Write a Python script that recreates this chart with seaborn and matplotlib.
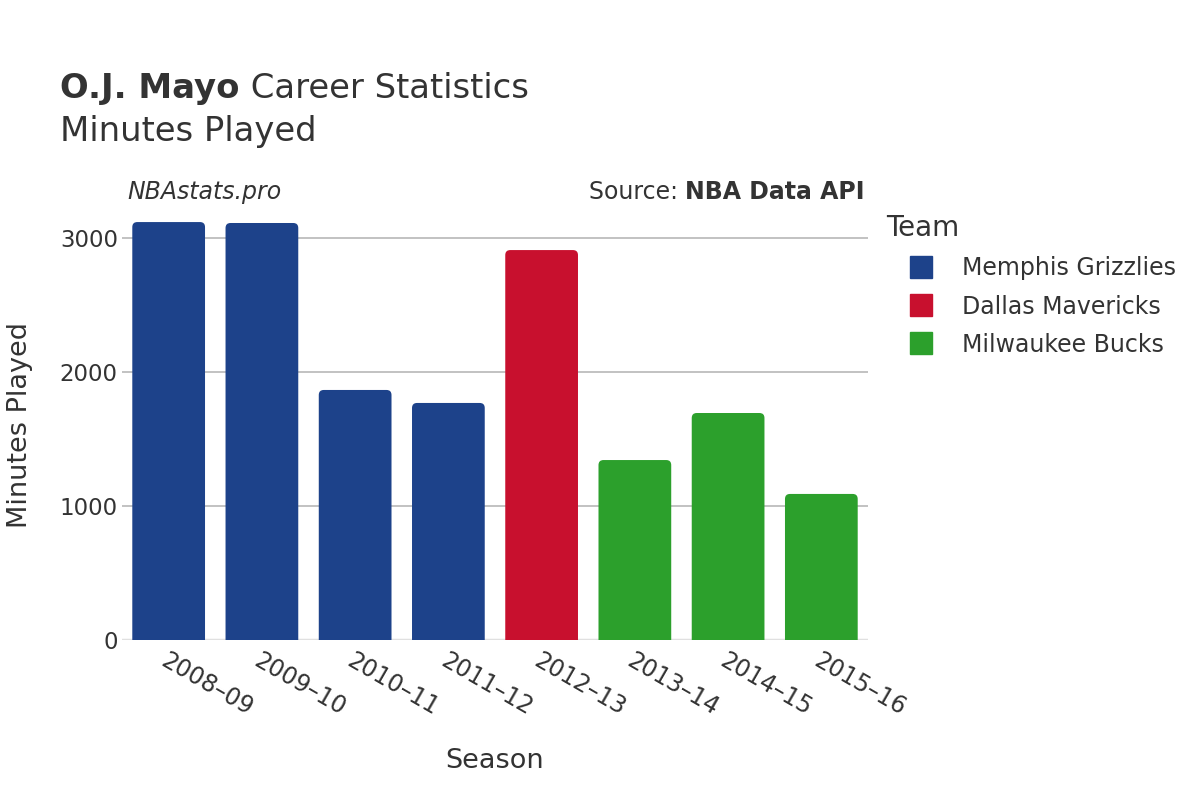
import numpy as np
import pandas as pd
import matplotlib
matplotlib.use("Agg")
import matplotlib.pyplot as plt
import seaborn as sns
from matplotlib.patches import FancyBboxPatch
from matplotlib.lines import Line2D

seasons = ["2008–09", "2009–10", "2010–11", "2011–12", "2012–13", "2013–14", "2014–15", "2015–16"]
minutes = [3119, 3112, 1866, 1769, 2910, 1343, 1694, 1090]
teams = ["Memphis Grizzlies", "Memphis Grizzlies", "Memphis Grizzlies", "Memphis Grizzlies",
         "Dallas Mavericks", "Milwaukee Bucks", "Milwaukee Bucks", "Milwaukee Bucks"]
team_order = ["Memphis Grizzlies", "Dallas Mavericks", "Milwaukee Bucks"]
team_colors = ["#1D428A", "#C8102E", "#2CA02C"]

df = pd.DataFrame({"Season": seasons, "Minutes": minutes, "Team": teams})

sns.set_theme(style="white")
plt.rcParams["font.family"] = ["DejaVu Sans"]
text_col = "#333333"

fig = plt.figure(figsize=(12, 8), dpi=100)
ax = fig.add_axes([0.1017, 0.2, 0.6216, 0.5375])

sns.barplot(data=df, x="Season", y="Minutes", hue="Team", hue_order=team_order,
            palette=team_colors, saturation=1, dodge=False, width=0.78, ax=ax, legend=False)

# swap plain bars for rounded ones
px_x = 746 / len(seasons)
px_y = 0.134
rad = 5 / px_x
aspect = (1 / px_y) / (1 / px_x)
for p in list(ax.patches):
    h = p.get_height()
    if np.isnan(h) or h == 0:
        p.remove()
        continue
    x0, w = p.get_x(), p.get_width()
    fb = FancyBboxPatch((x0 + rad, -200 + rad * aspect), w - 2 * rad, h + 200 - 2 * rad * aspect,
                        boxstyle=f"round,pad={rad},rounding_size={rad}",
                        mutation_aspect=aspect, facecolor=p.get_facecolor(),
                        edgecolor="none", clip_on=True, zorder=3)
    p.remove()
    ax.add_patch(fb)

ax.set_xlim(-0.5, len(seasons) - 0.5)
ax.set_ylim(0, 3209)
ax.set_yticks([0, 1000, 2000, 3000])
ax.yaxis.grid(True, color="#bdbdbd", linewidth=1.3, zorder=0)
ax.set_axisbelow(True)
ax.axhline(0, color="#e0e0e0", linewidth=2.5, zorder=2)
for s in ax.spines.values():
    s.set_visible(False)

ax.tick_params(axis="y", labelsize=16.5, colors=text_col, length=0, pad=3)
ax.tick_params(axis="x", labelsize=17, colors=text_col, length=0, pad=6)
plt.setp(ax.get_xticklabels(), rotation=-30, ha="left", va="top", rotation_mode="anchor")

ax.set_xlabel("Season", fontsize=19.5, color=text_col, labelpad=20)
ax.set_ylabel("Minutes Played", fontsize=19.5, color=text_col, labelpad=19)

fig.canvas.draw()
r = fig.canvas.get_renderer()
inv = fig.transFigure.inverted()

t1 = fig.text(0.05, 0.889, "O.J. Mayo", fontsize=24.4, fontweight="bold", color=text_col, va="center")
bb = t1.get_window_extent(r)
fig.text(inv.transform((bb.x1, 0))[0], 0.889, " Career Statistics", fontsize=24.4, color=text_col, va="center")
fig.text(0.05, 0.835, "Minutes Played", fontsize=24.4, color=text_col, va="center")

fig.text(0.106, 0.76, "NBAstats.pro", fontsize=17, style="italic", color=text_col, va="center")
t2 = fig.text(0.7208, 0.76, "NBA Data API", fontsize=17, fontweight="bold", color=text_col, va="center", ha="right")
bb = t2.get_window_extent(r)
fig.text(inv.transform((bb.x0, 0))[0], 0.76, "Source: ", fontsize=17, color=text_col, va="center", ha="right")

handles = [Line2D([0], [0], marker="s", linestyle="none", markersize=16,
                  markerfacecolor=c, markeredgecolor=c) for c in team_colors]
leg = fig.legend(handles, team_order, loc="upper left", bbox_to_anchor=(0.7307, 0.744),
                 frameon=False, fontsize=17, title="Team", title_fontsize=20,
                 labelspacing=0.6, handletextpad=0.25, handlelength=2.95, borderaxespad=0)
leg._legend_box.align = "left"
for t in leg.get_texts():
    t.set_color(text_col)
leg.get_title().set_color(text_col)

fig.savefig("out.png", dpi=100, facecolor="white")
